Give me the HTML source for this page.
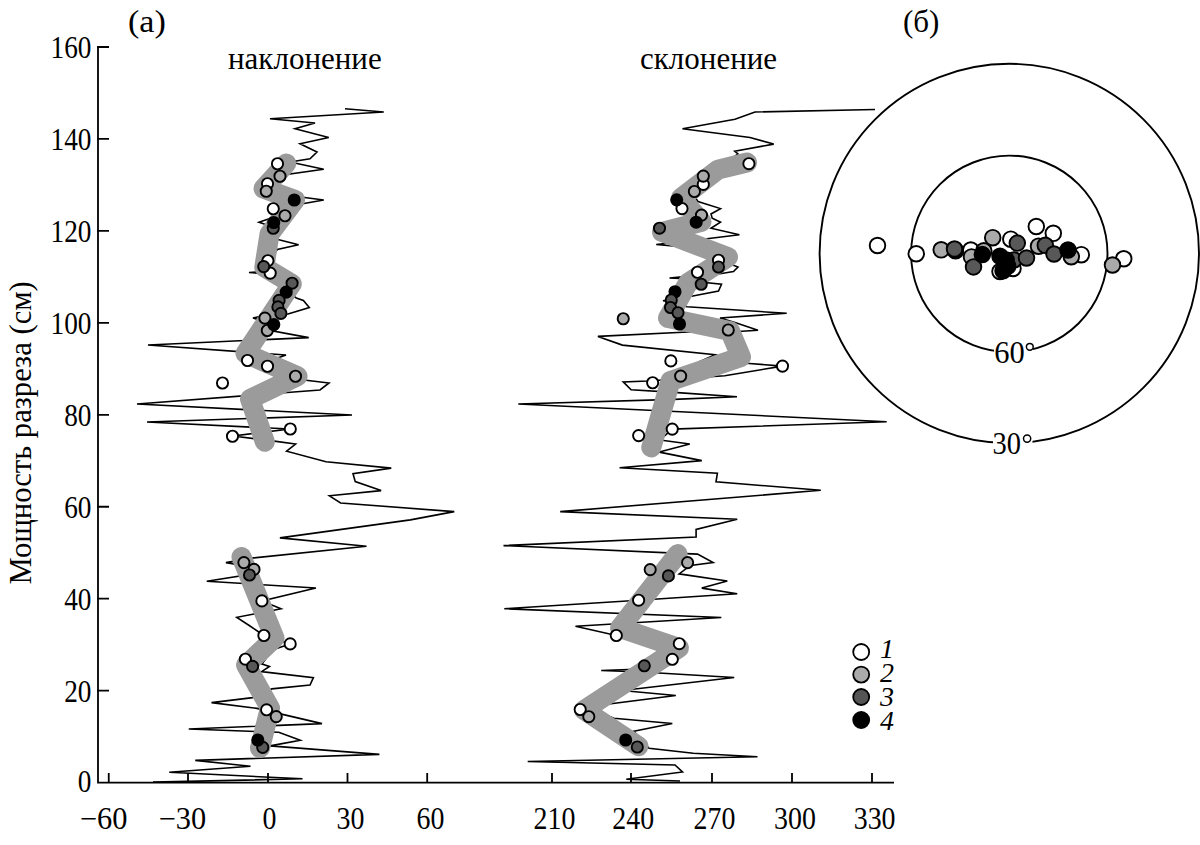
<!DOCTYPE html>
<html><head><meta charset="utf-8">
<style>
html,body{margin:0;padding:0;background:#fff;width:1200px;height:845px;overflow:hidden}
svg{display:block}
text{font-family:"Liberation Serif",serif;fill:#000}
</style></head><body>
<svg width="1200" height="845" viewBox="0 0 1200 845">
<!-- axes -->
<g stroke="#000" stroke-width="1.8" fill="none" stroke-linecap="butt">
<path d="M98 46.2V782.6H894"/>
<path d="M97 47.00H109M97 138.95H109M97 230.90H109M97 322.85H109M97 414.80H109M97 506.75H109M97 598.70H109M97 690.65H109"/>
<path d="M108.75 782.6V773M188 782.6V773M268 782.6V773M347.5 782.6V773M427.2 782.6V773M552 782.6V773M631 782.6V773M712 782.6V773M792 782.6V773M872 782.6V773"/>
</g>
<g font-size="31" text-anchor="end" transform="matrix(0.88,0,0,1,10.98,0)">
<text x="91.5" y="58.00">160</text>
<text x="91.5" y="149.95">140</text>
<text x="91.5" y="241.90">120</text>
<text x="91.5" y="333.85">100</text>
<text x="91.5" y="425.80">80</text>
<text x="91.5" y="517.75">60</text>
<text x="91.5" y="609.70">40</text>
<text x="91.5" y="701.65">20</text>
<text x="91.5" y="792.3">0</text>
</g>
<g font-size="31" text-anchor="middle">
<text transform="translate(103.75,829) scale(0.98,1)">−60</text>
<text transform="translate(182.4,829) scale(0.98,1)">−30</text>
<text transform="translate(269.6,829) scale(0.9,1)">0</text>
<text transform="translate(350.4,829) scale(0.9,1)">30</text>
<text transform="translate(430.5,829) scale(0.9,1)">60</text>
<text transform="translate(554.4,829) scale(0.9,1)">210</text>
<text transform="translate(633.2,829) scale(0.9,1)">240</text>
<text transform="translate(714.5,829) scale(0.9,1)">270</text>
<text transform="translate(795,829) scale(0.9,1)">300</text>
<text transform="translate(874.6,829) scale(0.9,1)">330</text>
</g>
<text font-size="31" transform="translate(30.8,584.5) rotate(-90) scale(0.988,1)">Мощность разреза (см)</text>
<text font-size="31" transform="translate(128,32) scale(1.1,1)">(а)</text>
<text font-size="31" x="228" y="69">наклонение</text>
<text font-size="31" x="640" y="69">склонение</text>
<text font-size="31" x="903" y="32">(б)</text>

<g fill="none" stroke="#000" stroke-width="1.6" stroke-linejoin="miter" stroke-miterlimit="4">
<polyline points="345,108.75 383.75,112 270,118.75 315,123 295,128.75 328.75,137.5 300,143.75 317,152 310,158.75 290,162 323.75,169.25 276,176 278,194 323.75,200 290,206 280,215 259,222.2 276,228 272,238 298.6,244.7 277.3,249.5 262,271.5 249,272.5 262,273.5 296.3,298 303.4,300.4 309.3,307.5 288,314 262,316 253,318.1 268,322 268,330 308.7,337.6 148,345 286,355 272,360 304,380 329,383 320,390 137,404 352,415 147,422 290,429 233,436 274.25,441.1 295.6,444 286.6,451.25 326,461.8 391.25,468.1 353,473.75 355.25,481.6 381.1,490.6 329.4,495.8 340.6,503 454.25,511.6 410.4,519.9 279.9,537.9 366.5,546.2 251.75,558.1 225.9,562.6 246,566 246,575 206.75,581.3 315.9,588 262,600.9 281,608.75 270,611 254,614 236.8,617.3 250,626 263.9,635.5 290.2,643.9 272,650 262,664 269.5,666.4 261.6,671.6 313.4,677.6 310,685 271.75,688.9 252.7,697.6 211.5,702.6 257,708.4 322,723.6 188.75,729 278.7,732.25 300.3,740.3 270,745.9 379.4,754.4 195.25,760.4 250.5,766.3 169.25,772.3 302.5,778.8 153,782.1"/>
<polyline points="875,109.5 755,112 735,119.25 682.5,128.75 750,137.5 773.7,144.1 734.7,151.2 738,154 690,190 698,201.5 720.5,208.6 711,214 712.2,218.1 720.5,222.2 711,228.2 739.4,234.7 711,238.2 656.25,244.5 684,247 700,250 732,264.75 738,267 733.5,271.5 720,273.75 690,276 669.5,278 690,279 700,282 721.5,284.25 718.5,291 691.5,296.25 663,300.75 672,302 687,306.75 786.7,313.3 720,318 735,322.5 758,330.25 730,332 688,332 597.9,336.4 622.4,345.1 715.1,354.75 699.4,361.75 730,362 749.3,363.5 782.5,366.1 724.75,375.75 647.75,381 623.25,381.9 631.1,389.75 674,392.4 737,396.75 674,399.4 518.3,404 886.7,421.7 672.25,429.1 660,440 689.75,444 659.3,452.1 701.8,460.6 619.6,467.7 717.4,473.3 716,481.8 820.8,490.3 560.2,511.6 737.2,519.2 696.1,529.4 696.1,537.1 503.5,545.6 697.5,554.1 713.1,562.6 690.5,565.4 679.1,573.9 727.3,581 701.8,588.1 737.2,593.7 638.6,600.2 504.3,608.7 721.3,617.5 575.5,626.2 616.3,635.5 640,637 665,652 642,669 601.2,670.5 642,672 734.2,677.5 622,690.5 675.8,695.5 607,704.3 598,712 614,718.3 672.3,723.5 633.8,731.2 649,748.2 693.3,753.3 757.5,756.8 527.7,761.5 675,765 682.5,772 626.25,779.25 680,781"/>
</g>
<g fill="none" stroke="#9b9b9b" stroke-width="20" stroke-linejoin="round" stroke-linecap="round">
<polyline points="286.25,163.5 263.5,188.5 295,200 269.5,234 264.3,267.2 291.8,283.8 245.5,353.5 297.5,376.25 250,399 264.8,441.8"/>
<polyline points="241.5,557 274.5,638 246,665 270,708 260,748"/>
<polyline points="747,162.5 718,169.6 681,198 701.5,221.7 662,232 728,257 688,283 668,318 730,331 741,357 670.5,381 651.25,447.5"/>
<polyline points="677.7,554.1 620,628 679,648 584,710 638.5,746.3"/>
</g>
<g stroke="#000" stroke-width="1.9">
<circle cx="277.5" cy="163.75" r="5.6" fill="#fff"/>
<circle cx="280" cy="176.25" r="5.6" fill="#aaa"/>
<circle cx="267.5" cy="183.75" r="5.6" fill="#fff"/>
<circle cx="266.25" cy="191.25" r="5.6" fill="#aaa"/>
<circle cx="294.25" cy="200" r="5.6" fill="#000"/>
<circle cx="273.25" cy="208.75" r="5.6" fill="#fff"/>
<circle cx="285" cy="215.75" r="5.6" fill="#aaa"/>
<circle cx="273.25" cy="228.25" r="5.6" fill="#585858"/>
<circle cx="273.75" cy="222.5" r="5.6" fill="#000"/>
<circle cx="267.9" cy="260.7" r="5.6" fill="#fff"/>
<circle cx="270.2" cy="273.1" r="5.6" fill="#fff"/>
<circle cx="263.7" cy="266.6" r="5.6" fill="#585858"/>
<circle cx="292.1" cy="283.2" r="5.6" fill="#585858"/>
<circle cx="286.2" cy="292.1" r="5.6" fill="#000"/>
<circle cx="279.1" cy="300.4" r="5.6" fill="#585858"/>
<circle cx="277.9" cy="306.9" r="5.6" fill="#585858"/>
<circle cx="280.9" cy="313.4" r="5.6" fill="#585858"/>
<circle cx="264.9" cy="318.1" r="5.6" fill="#aaa"/>
<circle cx="267.3" cy="330.5" r="5.6" fill="#aaa"/>
<circle cx="273.8" cy="324.6" r="5.6" fill="#000"/>
<circle cx="247.5" cy="360.5" r="5.6" fill="#fff"/>
<circle cx="267.5" cy="366.25" r="5.6" fill="#fff"/>
<circle cx="295.5" cy="376.25" r="5.6" fill="#aaa"/>
<circle cx="222.5" cy="383" r="5.6" fill="#fff"/>
<circle cx="290.3" cy="429" r="5.6" fill="#fff"/>
<circle cx="232.5" cy="436.25" r="5.6" fill="#fff"/>
<circle cx="243.9" cy="562.6" r="5.6" fill="#aaa"/>
<circle cx="254" cy="569.4" r="5.6" fill="#aaa"/>
<circle cx="249.5" cy="575" r="5.6" fill="#585858"/>
<circle cx="261.9" cy="600.9" r="5.6" fill="#fff"/>
<circle cx="263.9" cy="635.5" r="5.6" fill="#fff"/>
<circle cx="290.2" cy="643.9" r="5.6" fill="#fff"/>
<circle cx="245.4" cy="659.2" r="5.6" fill="#fff"/>
<circle cx="252.6" cy="666.4" r="5.6" fill="#585858"/>
<circle cx="266.6" cy="709.8" r="5.6" fill="#fff"/>
<circle cx="276.25" cy="716.6" r="5.6" fill="#aaa"/>
<circle cx="262.75" cy="747.4" r="5.6" fill="#585858"/>
<circle cx="257.8" cy="740" r="5.6" fill="#000"/>
<circle cx="748.9" cy="163.7" r="5.6" fill="#fff"/>
<circle cx="703.3" cy="184.4" r="5.6" fill="#fff"/>
<circle cx="703.3" cy="176.1" r="5.6" fill="#aaa"/>
<circle cx="694.4" cy="191.5" r="5.6" fill="#aaa"/>
<circle cx="682" cy="208.6" r="5.6" fill="#fff"/>
<circle cx="676.7" cy="199.8" r="5.6" fill="#000"/>
<circle cx="701.5" cy="215.1" r="5.6" fill="#aaa"/>
<circle cx="696.2" cy="222.2" r="5.6" fill="#000"/>
<circle cx="659.5" cy="228.2" r="5.6" fill="#585858"/>
<circle cx="718.5" cy="260.25" r="5.6" fill="#fff"/>
<circle cx="718.5" cy="267" r="5.6" fill="#585858"/>
<circle cx="697.5" cy="272.25" r="5.6" fill="#fff"/>
<circle cx="701.25" cy="284.25" r="5.6" fill="#585858"/>
<circle cx="675" cy="291.75" r="5.6" fill="#000"/>
<circle cx="671.25" cy="300" r="5.6" fill="#585858"/>
<circle cx="670.5" cy="307.5" r="5.6" fill="#585858"/>
<circle cx="678" cy="312.75" r="5.6" fill="#585858"/>
<circle cx="679.5" cy="324" r="5.6" fill="#000"/>
<circle cx="623.25" cy="318.75" r="5.6" fill="#aaa"/>
<circle cx="728.25" cy="330" r="5.6" fill="#aaa"/>
<circle cx="670.85" cy="360.9" r="5.6" fill="#fff"/>
<circle cx="680.65" cy="376.1" r="5.6" fill="#aaa"/>
<circle cx="652.65" cy="382.75" r="5.6" fill="#fff"/>
<circle cx="782.5" cy="366.1" r="5.6" fill="#fff"/>
<circle cx="672.25" cy="429.1" r="5.6" fill="#fff"/>
<circle cx="638.65" cy="435.6" r="5.6" fill="#fff"/>
<circle cx="650.2" cy="569.6" r="5.6" fill="#aaa"/>
<circle cx="668.4" cy="575.9" r="5.6" fill="#585858"/>
<circle cx="687.6" cy="562.6" r="5.6" fill="#aaa"/>
<circle cx="638.6" cy="600.2" r="5.6" fill="#fff"/>
<circle cx="616.3" cy="635.5" r="5.6" fill="#fff"/>
<circle cx="679.3" cy="643.7" r="5.6" fill="#fff"/>
<circle cx="672.3" cy="659.3" r="5.6" fill="#fff"/>
<circle cx="644.3" cy="665.8" r="5.6" fill="#585858"/>
<circle cx="580.2" cy="709.5" r="5.6" fill="#fff"/>
<circle cx="588.8" cy="716.7" r="5.6" fill="#aaa"/>
<circle cx="625.7" cy="740" r="5.6" fill="#000"/>
<circle cx="637.3" cy="747" r="5.6" fill="#585858"/>
</g>

<!-- stereonet -->
<g fill="none" stroke="#000" stroke-width="1.9">
<circle cx="1009.3" cy="253.5" r="189.7"/>
<circle cx="1009.3" cy="253.8" r="98.2"/>
</g>
<rect x="994" y="336" width="39" height="28" fill="#fff"/>
<rect x="993" y="428" width="39.5" height="28" fill="#fff"/>
<text font-size="31" transform="translate(994.3,362.6) scale(0.985,1)">60</text>
<text font-size="31" transform="translate(992.5,454) scale(0.92,1)">30</text>
<g fill="none" stroke="#000" stroke-width="1.5">
<circle cx="1029.8" cy="346.8" r="3.4"/>
<circle cx="1027.1" cy="438.6" r="3.6"/>
</g>
<g stroke="#000" stroke-width="1.9">
<circle cx="877.5" cy="245.5" r="7.8" fill="#fff"/>
<circle cx="916.25" cy="253.75" r="7.8" fill="#fff"/>
<circle cx="941.2" cy="249.8" r="7.8" fill="#aaa"/>
<circle cx="955.5" cy="250.8" r="7.8" fill="#000"/>
<circle cx="954.5" cy="249" r="7.8" fill="#585858"/>
<circle cx="970.8" cy="250" r="7.8" fill="#fff"/>
<circle cx="983.8" cy="250.8" r="7.8" fill="#aaa"/>
<circle cx="971.5" cy="256.9" r="7.8" fill="#aaa"/>
<circle cx="973.5" cy="266.9" r="7.8" fill="#585858"/>
<circle cx="982.3" cy="254.6" r="7.8" fill="#000"/>
<circle cx="992.7" cy="237.7" r="7.8" fill="#aaa"/>
<circle cx="1010.8" cy="239.2" r="7.8" fill="#fff"/>
<circle cx="1017.3" cy="243.1" r="7.8" fill="#585858"/>
<circle cx="1000" cy="271.5" r="7.8" fill="#fff"/>
<circle cx="1013" cy="268.5" r="7.8" fill="#fff"/>
<circle cx="1013.8" cy="260" r="7.8" fill="#585858"/>
<circle cx="1000" cy="256.2" r="7.8" fill="#000"/>
<circle cx="1006.2" cy="260" r="7.8" fill="#000"/>
<circle cx="1003" cy="270.8" r="7.8" fill="#000"/>
<circle cx="1007.7" cy="266.2" r="7.8" fill="#000"/>
<circle cx="1026.5" cy="258" r="7.8" fill="#585858"/>
<circle cx="1036.3" cy="226.5" r="7.8" fill="#fff"/>
<circle cx="1053.3" cy="233.3" r="7.8" fill="#fff"/>
<circle cx="1038.5" cy="246.2" r="7.8" fill="#aaa"/>
<circle cx="1045.3" cy="245.3" r="7.8" fill="#585858"/>
<circle cx="1054" cy="254" r="7.8" fill="#585858"/>
<circle cx="1081.3" cy="254.7" r="7.8" fill="#fff"/>
<circle cx="1071.3" cy="256.7" r="7.8" fill="#aaa"/>
<circle cx="1068" cy="250" r="7.8" fill="#000"/>
<circle cx="1123.75" cy="258.75" r="7.8" fill="#fff"/>
<circle cx="1112.5" cy="265" r="7.8" fill="#aaa"/>
</g>
<!-- legend -->
<g stroke="#000" stroke-width="1.8">
<circle cx="861.2" cy="652" r="8" fill="#fff"/>
<circle cx="861.2" cy="674.6" r="8" fill="#aaa"/>
<circle cx="861.2" cy="697" r="8" fill="#555"/>
<circle cx="861.2" cy="720" r="8" fill="#000"/>
</g>
<g font-size="28" font-style="italic">
<text x="880" y="658">1</text>
<text x="880" y="682.3">2</text>
<text x="880" y="705.5">3</text>
<text x="880" y="729.5">4</text>
</g>
</svg>
</body></html>
